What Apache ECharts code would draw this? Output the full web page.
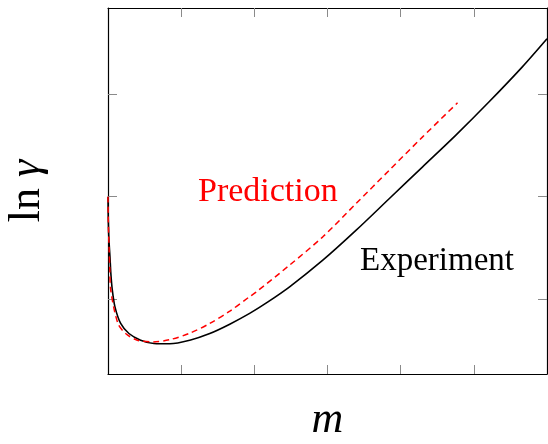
<!DOCTYPE html>
<html>
<head>
<meta charset="utf-8">
<script src="https://cdn.jsdelivr.net/npm/echarts@6/dist/echarts.min.js"></script>
<style>html,body{margin:0;padding:0;background:#fff}#c{width:548px;height:444px}</style>
</head>
<body>
<div id="c"></div>
<script>
// Experiment (black solid): m, ln gamma
const expM = [0, 0.003, 0.008, 0.015, 0.027, 0.04, 0.059, 0.095, 0.173, 0.286, 0.446, 0.627, 0.845, 1.118, 1.391, 1.664, 1.936, 2.186, 2.482, 2.936, 3.392, 3.846, 4.30, 4.755, 5.209, 5.663, 6.0];
const expV = [0, -0.18, -0.33, -0.45, -0.587, -0.76, -0.912, -1.075, -1.237, -1.335, -1.400, -1.432, -1.435, -1.400, -1.335, -1.244, -1.139, -1.027, -0.880, -0.620, -0.327, -0.018, 0.291, 0.600, 0.925, 1.266, 1.54];
// Prediction (red dashed)
const preM = [0, 0.003, 0.008, 0.015, 0.025, 0.037, 0.136, 0.241, 0.40, 0.618, 0.845, 1.118, 1.391, 1.664, 1.936, 2.028, 2.482, 2.936, 3.392, 3.846, 4.30, 4.777];
const preV = [0, -0.19, -0.35, -0.5, -0.72, -0.912, -1.237, -1.335, -1.400, -1.417, -1.395, -1.332, -1.237, -1.117, -0.975, -0.929, -0.668, -0.392, -0.066, 0.259, 0.583, 0.915];
const xTicks = [1, 2, 3, 4, 5];
const yTicks = [-1, 0, 1];
const labels = { prediction: 'Prediction', experiment: 'Experiment', xName: 'm', yName: 'ln γ' };

const chart = echarts.init(document.getElementById('c'), null, { renderer: 'canvas' });
const serif = 'Liberation Serif';
const frame = { show: true, onZero: false, lineStyle: { color: '#000', width: 1.2 } };
function xa(pos, extra) {
  return Object.assign({
    type: 'value', min: 0, max: 6, position: pos,
    axisLine: frame,
    axisTick: { show: true, inside: true, length: 9, customValues: xTicks, lineStyle: { color: '#8a8a8a', width: 1 } },
    axisLabel: { show: false }, splitLine: { show: false }
  }, extra || {});
}
function ya(pos, extra) {
  return Object.assign({
    type: 'value', min: -1.73, max: 1.84, position: pos,
    axisLine: frame,
    axisTick: { show: true, inside: true, length: 9, customValues: yTicks, lineStyle: { color: '#8a8a8a', width: 1 } },
    axisLabel: { show: false }, splitLine: { show: false }
  }, extra || {});
}
const zip = (a, b) => a.map((v, i) => [v, b[i]]);
chart.setOption({
  animation: false,
  grid: { left: 108, top: 8, right: 1, bottom: 70, containLabel: false, outerBoundsMode: 'none' },
  xAxis: [
    xa('bottom', { name: labels.xName, nameLocation: 'middle', nameGap: 24,
      nameTextStyle: { fontFamily: serif, fontStyle: 'italic', fontSize: 44, color: '#000' } }),
    xa('top')
  ],
  yAxis: [
    ya('left', { name: '{a|ln }{b|γ}', nameLocation: 'middle', nameGap: 59, nameRotate: 90,
      nameTextStyle: { color: '#000', rich: {
        a: { fontFamily: serif, fontSize: 44, color: '#000' },
        b: { fontFamily: serif, fontStyle: 'italic', fontSize: 44, color: '#000' } } } }),
    ya('right')
  ],
  series: [
    { type: 'line', data: zip(expM, expV), showSymbol: false, smooth: 0.3,
      lineStyle: { color: '#000', width: 1.6 } },
    { type: 'line', data: zip(preM, preV), showSymbol: false, smooth: 0.3,
      lineStyle: { color: '#ff0000', width: 1.5, type: [6, 4] } }
  ],
  graphic: [
    { type: 'text', x: 198, y: 192, style: { text: labels.prediction, fill: '#ff0000', font: '34px "Liberation Serif"', textAlign: 'left', textVerticalAlign: 'middle' } },
    { type: 'text', x: 360, y: 261, style: { text: labels.experiment, fill: '#000', font: '33px "Liberation Serif"', textAlign: 'left', textVerticalAlign: 'middle' } }
  ]
});
</script>
</body>
</html>
